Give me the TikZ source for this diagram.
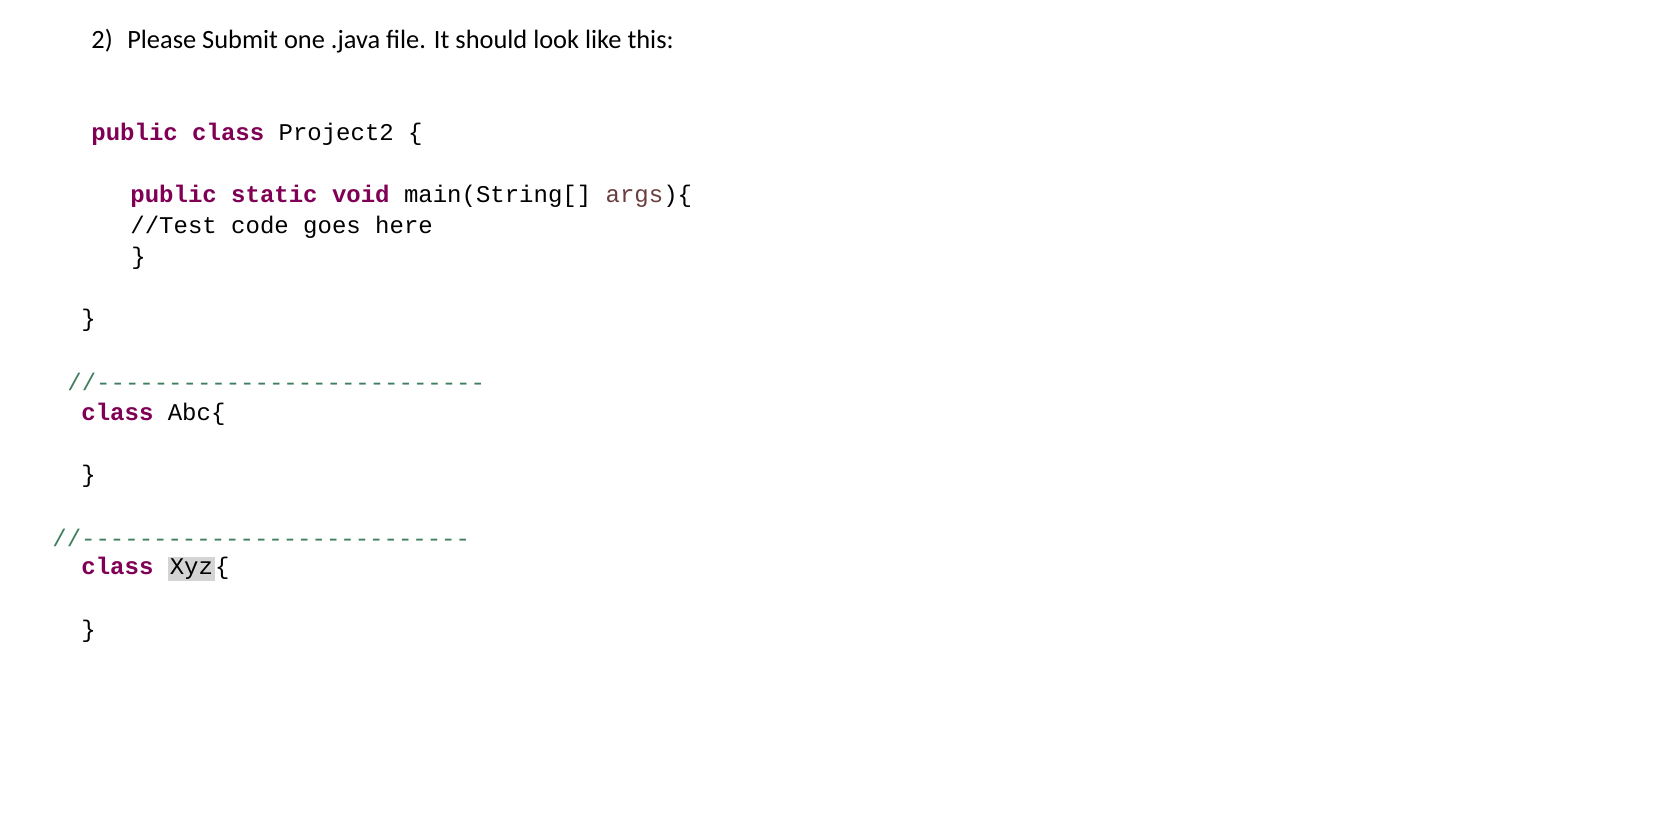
\documentclass[tikz,border=0pt]{standalone}
\usepackage{fontspec}
\setmainfont{Carlito}
\setmonofont{Liberation Mono}
\definecolor{kw}{HTML}{7F0055}
\definecolor{cm}{HTML}{3F7F5F}
\definecolor{ar}{HTML}{6A3E3E}
\definecolor{hl}{HTML}{D4D4D4}
\tikzset{code/.style={anchor=west,inner sep=0pt,font=\ttfamily\fontsize{12}{14}\selectfont},
 head/.style={anchor=west,inner sep=0pt,font=\fontsize{13.2}{16}\selectfont}}
\newcommand{\kwd}[1]{\textcolor{kw}{\textbf{#1}}}
\begin{document}
\begin{tikzpicture}[x=0.5pt,y=-0.5pt]
\useasboundingbox (0,0) rectangle (1676,816);
\node[head] (h) at (91,41) {2)\hspace{0.55em}Please Submit one .java file. It should look like this:};
\node[code] (l1) at (91,134) {\kwd{public} \kwd{class} Project2 \{};
\node[code] (l2) at (130,196) {\kwd{public} \kwd{static} \kwd{void} main(String[] \textcolor{ar}{args})\{};
\node[code] (l3) at (130,227) {//Test code goes here};
\node[code] (l4) at (131,258) {\}};
\node[code] (l5) at (81,320) {\}};
\node[code] (l6) at (67,382) {\textcolor{cm}{//---------------------------}};
\node[code] (l7) at (81,414) {\kwd{class} Abc\{};
\node[code] (l8) at (81,476) {\}};
\node[code] (l9) at (52,538) {\textcolor{cm}{//---------------------------}};
\node[code] (l10) at (81,569) {\kwd{class} \setlength{\fboxsep}{1pt}\colorbox{hl}{Xyz}\{};
\node[code] (l11) at (81,631) {\}};
\end{tikzpicture}
\end{document}
